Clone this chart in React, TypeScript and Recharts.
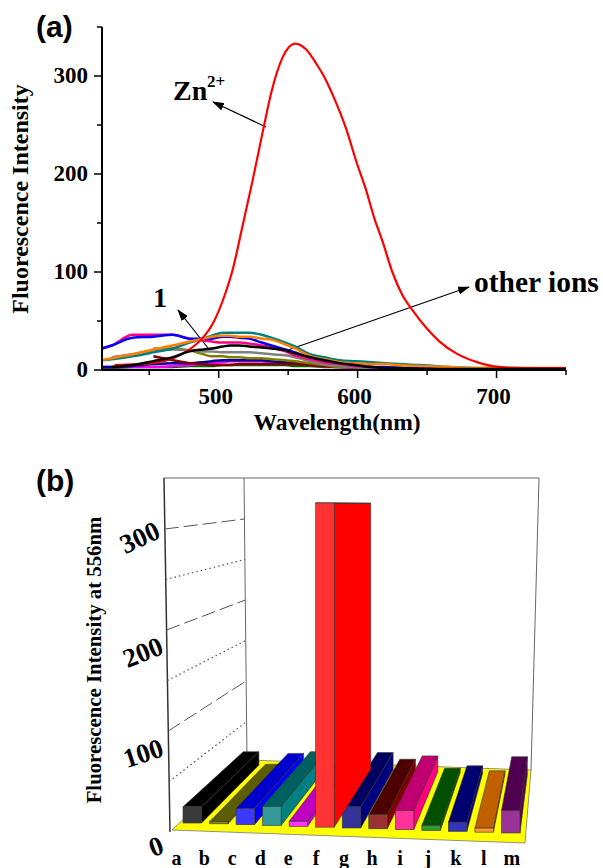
import React from 'react';
import { LineChart, Line, BarChart, Bar, XAxis, YAxis } from 'recharts';

const SERIF = '"Liberation Serif", "Times New Roman", serif';
const SANS = '"Liberation Sans", Arial, sans-serif';

// panel (a) spectra
const wavelengths = [416, 423, 438, 453, 467, 479, 489, 495, 503, 508, 515, 522, 531, 538, 548, 555, 566, 576, 587, 598, 610, 620, 630, 645, 666, 688, 717, 750];
const pink = [22, 25, 36, 36, 36, 32, 30, 29, 28, 28, 28, 27, 25, 23, 19, 15, 11, 8, 6, 4, 3, 2, 2, 1, 1, 1, 1, 1];
const blue = [22, 25, 33, 34, 36, 32, 32, 32, 34, 34, 33, 32, 28, 25, 21, 18, 13, 10, 7, 5, 3, 3, 2, 2, 1, 1, 1, 1];
const teal = [10, 11, 14, 18, 22, 28, 32, 35, 38, 38, 38, 38, 36, 33, 28, 24, 16, 13, 10, 9, 8, 7, 6, 5, 3, 2, 2, 1];
const orange = [10, 12, 16, 21, 25, 29, 32, 34, 35, 35, 34, 34, 32, 31, 26, 22, 14, 11, 8, 7, 6, 6, 5, 4, 3, 2, 2, 2];
const gray = [null, 13, 16, 20, 21, 20, 19, 19, 18, 18, 18, 18, 17, 16, 15, 13, 9, 6, 4, 3, 2, 2, 1, 1, 1, 1, 1, 1];
const olive = [null, null, null, 22, 22, 20, 16, 14, 14, 13, 13, 12, 12, 11, 10, 9, 7, 5, 3, 3, 2, 2, 1, 1, 1, 1, 1, 1];
const black = [null, 3, 5, 9, 13, 19, 21, 22, 24, 25, 25, 24, 23, 22, 20, 17, 13, 10, 7, 5, 3, 2, 2, 1, 1, 1, 1, 1];
const maroon = [null, null, null, 14, 10, 7, 6, 5, 5, 5, 6, 6, 6, 6, 6, 6, 5, 4, 3, 3, 2, 2, 1, 1, 1, 1, 1, 1];
const navy = [3, 3, 4, 6, 7, 7, 8, 9, 10, 10, 10, 10, 10, 9, 8, 7, 6, 5, 4, 3, 3, 2, 2, 1, 1, 1, 1, 1];
const magenta = [3, 3, 3, 3, 4, 5, 6, 7, 8, 9, 9, 9, 9, 8, 8, 7, 5, 4, 3, 2, 2, 2, 1, 1, 1, 1, 1, 1];
const green = [2, 2, 3, 3, 3, 4, 4, 4, 5, 5, 5, 5, 5, 5, 5, 4, 4, 3, 3, 2, 2, 2, 1, 1, 1, 1, 1, 1];

// the Zn2+ curve is read at its own, denser wavelengths
const zincWavelengths = [425, 453, 467, 479, 488, 496, 504, 510, 517, 524.5, 532, 538, 546, 555, 563, 570.5, 576, 582, 592, 599, 606, 612, 618, 625, 632, 640, 650, 659, 671, 686, 697, 717, 750];
const zincValues = [5, 7, 12, 21, 32, 48, 75, 102, 146, 194, 245, 284, 319, 333, 327, 312, 299, 281, 245, 213, 184, 155, 131, 100, 77, 60, 42, 29, 17, 8, 4, 2, 2];

const lowSpectra = [
  { key: 'green', values: green, color: '#006400' },
  { key: 'magenta', values: magenta, color: '#ff00ff' },
  { key: 'navy', values: navy, color: '#000099' },
  { key: 'maroon', values: maroon, color: '#800000' },
  { key: 'olive', values: olive, color: '#808000' },
  { key: 'gray', values: gray, color: '#808080' },
  { key: 'pink', values: pink, color: '#ff0080' },
  { key: 'blue', values: blue, color: '#0000ff' },
  { key: 'teal', values: teal, color: '#008080' },
  { key: 'orange', values: orange, color: '#ff8000' },
];

const spectraRows = wavelengths.map((w, i) => {
  const row: any = { w, black: black[i] };
  lowSpectra.forEach((s) => { row[s.key] = s.values[i]; });
  return row;
});
const zincRows = zincWavelengths.map((w, i) => ({ w, zinc: zincValues[i] }));

const xTicksA = [450, 500, 550, 600, 650, 700, 750];
const yTicksA = [0, 50, 100, 150, 200, 250, 300, 350];

// panel (b) bars
const ions = ['a', 'b', 'c', 'd', 'e', 'f', 'g', 'h', 'i', 'j', 'k', 'l', 'm'];
const otherIntensity = [16, 2, 16, 19, 5, 0, 21, 14, 19, 5, 9, 4, 22];
const zincIntensity = [0, 0, 0, 0, 0, 321, 0, 0, 0, 0, 0, 0, 0];
const frontColors = ['#3a3a3a', '#8f8f20', '#3a3aff', '#339999', '#ff33ff', '#ff3333', '#333399', '#993333', '#ff3399', '#339933', '#3333bb', '#ff9933', '#993399'];
const sideColors = ['#000000', '#606000', '#0000ff', '#008080', '#cc00cc', '#ff0000', '#000080', '#800000', '#ff0080', '#006000', '#000080', '#c06000', '#5a005a'];
const topColors = ['#000000', '#5c5c00', '#0000cc', '#006060', '#c000c0', '#cc0000', '#000060', '#4d0000', '#c00070', '#005000', '#000070', '#c06000', '#500050'];

const barRows = ions.map((ion, i) => ({ ion, other: otherIntensity[i], zn: zincIntensity[i] }));
const yTicksB = [0, 100, 200, 300];
const wallGrid = [50, 100, 150, 200, 250, 300];

// perspective of the 3D box in panel (b)
const backX = (x: number) => 89 + 0.843 * x;
const lift = (x: number) => 9 - (x - 192) * 0.0313;

function Bar3D(props: any) {
  const { x, y, width, height, index } = props;
  if (!height || height <= 0) return null;
  const up = lift(x + width / 2);
  const top = y - up;
  const bottom = y + height - up;
  const backBottom = bottom - 58;
  const backTop = backBottom - height * 0.82;
  const l = x;
  const r = x + width;
  const edge = { stroke: '#333', strokeWidth: 0.6 };
  return (
    <g>
      <polygon points={`${r},${top} ${backX(r)},${backTop} ${backX(r)},${backBottom} ${r},${bottom}`} fill={sideColors[index]} {...edge} />
      <polygon points={`${l},${top} ${r},${top} ${backX(r)},${backTop} ${backX(l)},${backTop}`} fill={topColors[index]} {...edge} />
      <rect x={l} y={top} width={width} height={height} fill={frontColors[index]} {...edge} />
    </g>
  );
}

function Walls() {
  const frontY = (v: number) => 832 - 1.01 * v;
  const wallBackY = (v: number) => 762 - 0.81 * v;
  return (
    <g>
      <polygon points="172,830 525,843 531,770 247,760" fill="#ffff00" stroke="#777" strokeWidth={0.8} />
      <polyline points="164,478 539,478 531,770" fill="none" stroke="#666" strokeWidth={1} />
      <line x1={244} y1={478} x2={247} y2={760} stroke="#666" strokeWidth={1} />
      <line x1={164} y1={478} x2={170} y2={832} stroke="#333" strokeWidth={1.5} />
      {wallGrid.map((v) => (
        <line
          key={v}
          x1={170 - (v / 350) * 6}
          y1={frontY(v)}
          x2={247 - (v / 350) * 3}
          y2={wallBackY(v)}
          stroke="#555"
          strokeWidth={v % 100 === 0 ? 1 : 1.2}
          strokeDasharray={v % 100 === 0 ? '14 5' : '1.5 3'}
        />
      ))}
    </g>
  );
}

function TickA({ x, y, payload }: any) {
  const major = payload.value % 100 === 0;
  return (
    <g>
      <line x1={x} y1={y - 8} x2={x} y2={y + (major ? 0 : -3)} stroke="#000" strokeWidth={1.5} />
      {major && (
        <text x={x - 3} y={y + 26} textAnchor="middle" fontFamily={SERIF} fontWeight="bold" fontSize={23} fill="#000">
          {payload.value}
        </text>
      )}
    </g>
  );
}

function TickLeftA({ x, y, payload }: any) {
  const major = payload.value % 100 === 0;
  return (
    <g>
      <line x1={x + 8} y1={y} x2={x + (major ? 0 : 3)} y2={y} stroke="#000" strokeWidth={1.5} />
      {major && payload.value < 350 && (
        <text x={x - 6} y={y + 7} textAnchor="end" fontFamily={SERIF} fontWeight="bold" fontSize={23} fill="#000">
          {payload.value}
        </text>
      )}
    </g>
  );
}

function NotesA() {
  const label = { fontFamily: SERIF, fontWeight: 'bold', fill: '#000' } as const;
  const arrow = { stroke: '#000', strokeWidth: 1.2, markerEnd: 'url(#head)' };
  return (
    <g>
      <defs>
        <marker id="head" markerWidth="12" markerHeight="8" refX="11" refY="4" orient="auto" markerUnits="userSpaceOnUse">
          <path d="M0,0 L12,4 L0,8 Z" fill="#000" />
        </marker>
      </defs>
      <line x1={266} y1={127} x2={213} y2={102} {...arrow} />
      <line x1={208} y1={348} x2={178} y2={310} {...arrow} />
      <line x1={288} y1={350} x2={469} y2={287} {...arrow} />
      <text x={173} y={100} fontSize={28} {...label}>Zn</text>
      <text x={207} y={87} fontSize={17} {...label}>2+</text>
      <text x={153} y={307} fontSize={28} {...label}>1</text>
      <text x={474} y={292} fontSize={29.5} {...label}>other ions</text>
      <text x={337} y={430} fontSize={23.5} textAnchor="middle" {...label}>Wavelength(nm)</text>
      <text transform="translate(28,199) rotate(-90)" fontSize={24} textAnchor="middle" {...label}>Fluorescence Intensity</text>
      <text x={36} y={37} fontFamily={SANS} fontWeight="bold" fontSize={30} fill="#000">(a)</text>
      <text x={36} y={491} fontFamily={SANS} fontWeight="bold" fontSize={30} fill="#000">(b)</text>
    </g>
  );
}

const tickTiltB: Record<number, { dx: number; dy: number; rot: number }> = {
  0: { dx: -11, dy: 17, rot: -20 },
  100: { dx: -24, dy: 25, rot: -18 },
  200: { dx: -24, dy: 25, rot: -22 },
  300: { dx: -27, dy: 11, rot: -25 },
};

function TickLeftB({ y, payload }: any) {
  const t = tickTiltB[payload.value];
  return (
    <text
      transform={`translate(${168 + t.dx},${y + t.dy}) rotate(${t.rot})`}
      textAnchor="middle"
      dominantBaseline="middle"
      fontFamily={SERIF}
      fontWeight="bold"
      fontSize={27}
      fill="#000"
    >
      {payload.value}
    </text>
  );
}

function TickBottomB({ x, payload }: any) {
  return (
    <text x={512 + (x - 511) * 1.053} y={865} textAnchor="middle" fontFamily={SERIF} fontWeight="bold" fontSize={20} fill="#000">
      {payload.value}
    </text>
  );
}

function TitleB() {
  return (
    <text
      transform="translate(101,660) rotate(-90)"
      textAnchor="middle"
      fontFamily={SERIF}
      fontWeight="bold"
      fontSize={20.8}
      fill="#000"
    >
      Fluorescence Intensity at 556nm
    </text>
  );
}

export default function App() {
  return (
    <div style={{ position: 'absolute', left: 0, top: 0, width: 603, height: 868, background: '#fff' }}>
      <div style={{ position: 'absolute', left: 0, top: 0 }}>
        <BarChart
          width={603}
          height={868}
          data={barRows}
          margin={{ left: 129, right: 79, top: 478.5, bottom: 16 }}
          barSize={18.5}
        >
          <Walls />
          <TitleB />
          <XAxis dataKey="ion" axisLine={false} tickLine={false} height={20} tick={<TickBottomB />} interval={0} />
          <YAxis domain={[0, 350]} ticks={yTicksB} axisLine={false} tickLine={false} width={50} tick={<TickLeftB />} />
          <Bar dataKey="other" stackId="s" isAnimationActive={false} shape={<Bar3D />} />
          <Bar dataKey="zn" stackId="s" isAnimationActive={false} shape={<Bar3D />} />
        </BarChart>
      </div>
      <div style={{ position: 'absolute', left: 0, top: 0 }}>
        <LineChart
          width={603}
          height={868}
          data={spectraRows}
          margin={{ left: 52, right: 37, top: 27, bottom: 458 }}
        >
          <XAxis
            type="number"
            dataKey="w"
            domain={[416, 750]}
            ticks={xTicksA}
            height={40}
            tickLine={false}
            stroke="#000"
            strokeWidth={2}
            tick={<TickA />}
            interval={0}
          />
          <YAxis
            domain={[0, 350]}
            ticks={yTicksA}
            width={50}
            tickLine={false}
            stroke="#000"
            strokeWidth={2}
            tick={<TickLeftA />}
            interval={0}
          />
          {lowSpectra.map((s) => (
            <Line
              key={s.key}
              dataKey={s.key}
              type="monotone"
              stroke={s.color}
              strokeWidth={2.5}
              dot={false}
              isAnimationActive={false}
            />
          ))}
          <Line data={zincRows} dataKey="zinc" type="monotone" stroke="#ff0000" strokeWidth={2.2} dot={false} isAnimationActive={false} />
          <Line dataKey="black" type="monotone" stroke="#000000" strokeWidth={2.5} dot={false} isAnimationActive={false} />
          <NotesA />
        </LineChart>
      </div>
    </div>
  );
}
